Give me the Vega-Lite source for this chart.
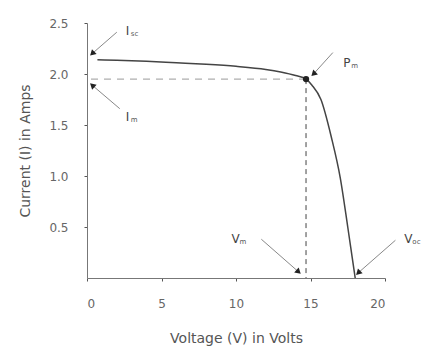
{
  "$schema": "https://vega.github.io/schema/vega-lite/v6.json",
  "autosize": "none",
  "width": 298,
  "height": 255,
  "padding": {"left": 87, "top": 23, "right": 49, "bottom": 76},
  "background": "white",
  "config": {
    "view": {"stroke": null},
    "font": "DejaVu Sans",
    "axis": {
      "grid": false,
      "domainColor": "#777",
      "tickColor": "#555",
      "tickSize": 3,
      "labelColor": "#666",
      "labelFontSize": 12,
      "titleColor": "#555",
      "titleFontSize": 14,
      "titleFontWeight": "normal",
      "labelFont": "DejaVu Sans",
      "titleFont": "DejaVu Sans"
    }
  },
  "datasets": {
    "curve": [
      {"v": 0.7, "i": 2.14},
      {"v": 2, "i": 2.135},
      {"v": 4, "i": 2.125},
      {"v": 6, "i": 2.11},
      {"v": 8, "i": 2.095},
      {"v": 10, "i": 2.075},
      {"v": 12, "i": 2.045},
      {"v": 13, "i": 2.02},
      {"v": 14, "i": 1.985},
      {"v": 14.7, "i": 1.95},
      {"v": 15.1, "i": 1.89},
      {"v": 15.7, "i": 1.75},
      {"v": 16.4, "i": 1.38},
      {"v": 17, "i": 0.98},
      {"v": 17.5, "i": 0.5},
      {"v": 17.8, "i": 0.2},
      {"v": 18, "i": 0}
    ],
    "pm": [{"v": 14.7, "i": 1.95}],
    "arrows": [
      {"label": "Isc", "v": 2.0, "i": 2.41, "v2": 0.35, "i2": 2.2},
      {"label": "Im", "v": 2.2, "i": 1.66, "v2": 0.35, "i2": 1.89},
      {"label": "Pm", "v": 16.5, "i": 2.21, "v2": 15.2, "i2": 2.0},
      {"label": "Vm", "v": 11.7, "i": 0.38, "v2": 14.2, "i2": 0.06},
      {"label": "Voc", "v": 20.7, "i": 0.37, "v2": 18.2, "i2": 0.05}
    ],
    "labels": [
      {"main": "I", "sub": "sc", "v": 2.6, "i": 2.42},
      {"main": "I", "sub": "m", "v": 2.6, "i": 1.58},
      {"main": "P", "sub": "m", "v": 17.2, "i": 2.11},
      {"main": "V", "sub": "m", "v": 9.7, "i": 0.38},
      {"main": "V", "sub": "oc", "v": 21.3, "i": 0.38}
    ]
  },
  "layer": [
    {
      "data": {"name": "curve"},
      "mark": {"type": "line", "color": "#444", "strokeWidth": 1.5, "interpolate": "monotone"},
      "encoding": {
        "x": {
          "field": "v", "type": "quantitative",
          "scale": {"domain": [0, 20], "nice": false},
          "axis": {"title": "Voltage (V) in Volts", "values": [0, 5, 10, 15, 20], "labelPadding": 17, "titlePadding": 22}
        },
        "y": {
          "field": "i", "type": "quantitative",
          "scale": {"domain": [0, 2.5], "nice": false},
          "axis": {"title": "Current (I) in Amps", "values": [0.5, 1, 1.5, 2, 2.5], "format": ".1f", "labelPadding": 16, "titlePadding": 16}
        }
      }
    },
    {
      "data": {"name": "pm"},
      "mark": {"type": "rule", "color": "#999", "strokeDash": [7, 6], "strokeWidth": 1},
      "encoding": {"x": {"field": "v", "type": "quantitative"}, "x2": {"datum": 0}, "y": {"field": "i", "type": "quantitative"}}
    },
    {
      "data": {"name": "pm"},
      "mark": {"type": "rule", "color": "#444", "strokeDash": [5, 4], "strokeWidth": 1},
      "encoding": {"x": {"field": "v", "type": "quantitative"}, "y": {"field": "i", "type": "quantitative"}, "y2": {"datum": 0}}
    },
    {
      "data": {"name": "pm"},
      "mark": {"type": "point", "filled": true, "color": "#222", "size": 40, "opacity": 1},
      "encoding": {"x": {"field": "v", "type": "quantitative"}, "y": {"field": "i", "type": "quantitative"}}
    },
    {
      "data": {"name": "arrows"},
      "mark": {"type": "rule", "color": "#888", "strokeWidth": 1},
      "encoding": {"x": {"field": "v", "type": "quantitative"}, "y": {"field": "i", "type": "quantitative"}, "x2": {"field": "v2"}, "y2": {"field": "i2"}}
    },
    {
      "data": {"name": "arrows"},
      "transform": [{"filter": {"field": "label", "oneOf": ["Isc", "Pm", "Voc"]}}],
      "mark": {"type": "point", "shape": "triangle-up", "angle": 226, "filled": true, "color": "#222", "size": 45, "opacity": 1},
      "encoding": {"x": {"field": "v2", "type": "quantitative"}, "y": {"field": "i2", "type": "quantitative"}}
    },
    {
      "data": {"name": "arrows"},
      "transform": [{"filter": {"field": "label", "equal": "Im"}}],
      "mark": {"type": "point", "shape": "triangle-up", "angle": 312, "filled": true, "color": "#222", "size": 45, "opacity": 1},
      "encoding": {"x": {"field": "v2", "type": "quantitative"}, "y": {"field": "i2", "type": "quantitative"}}
    },
    {
      "data": {"name": "arrows"},
      "transform": [{"filter": {"field": "label", "equal": "Vm"}}],
      "mark": {"type": "point", "shape": "triangle-up", "angle": 132, "filled": true, "color": "#222", "size": 45, "opacity": 1},
      "encoding": {"x": {"field": "v2", "type": "quantitative"}, "y": {"field": "i2", "type": "quantitative"}}
    },
    {
      "data": {"name": "labels"},
      "mark": {"type": "text", "align": "left", "baseline": "middle", "fontSize": 12, "color": "#444"},
      "encoding": {"x": {"field": "v", "type": "quantitative"}, "y": {"field": "i", "type": "quantitative"}, "text": {"field": "main"}}
    },
    {
      "data": {"name": "labels"},
      "transform": [{"filter": {"field": "main", "equal": "I"}}],
      "mark": {"type": "text", "align": "left", "baseline": "middle", "fontSize": 7, "color": "#555", "dx": 5, "dy": 3},
      "encoding": {"x": {"field": "v", "type": "quantitative"}, "y": {"field": "i", "type": "quantitative"}, "text": {"field": "sub"}}
    },
    {
      "data": {"name": "labels"},
      "transform": [{"filter": {"field": "main", "oneOf": ["P", "V"]}}],
      "mark": {"type": "text", "align": "left", "baseline": "middle", "fontSize": 7, "color": "#555", "dx": 8, "dy": 3},
      "encoding": {"x": {"field": "v", "type": "quantitative"}, "y": {"field": "i", "type": "quantitative"}, "text": {"field": "sub"}}
    }
  ]
}
